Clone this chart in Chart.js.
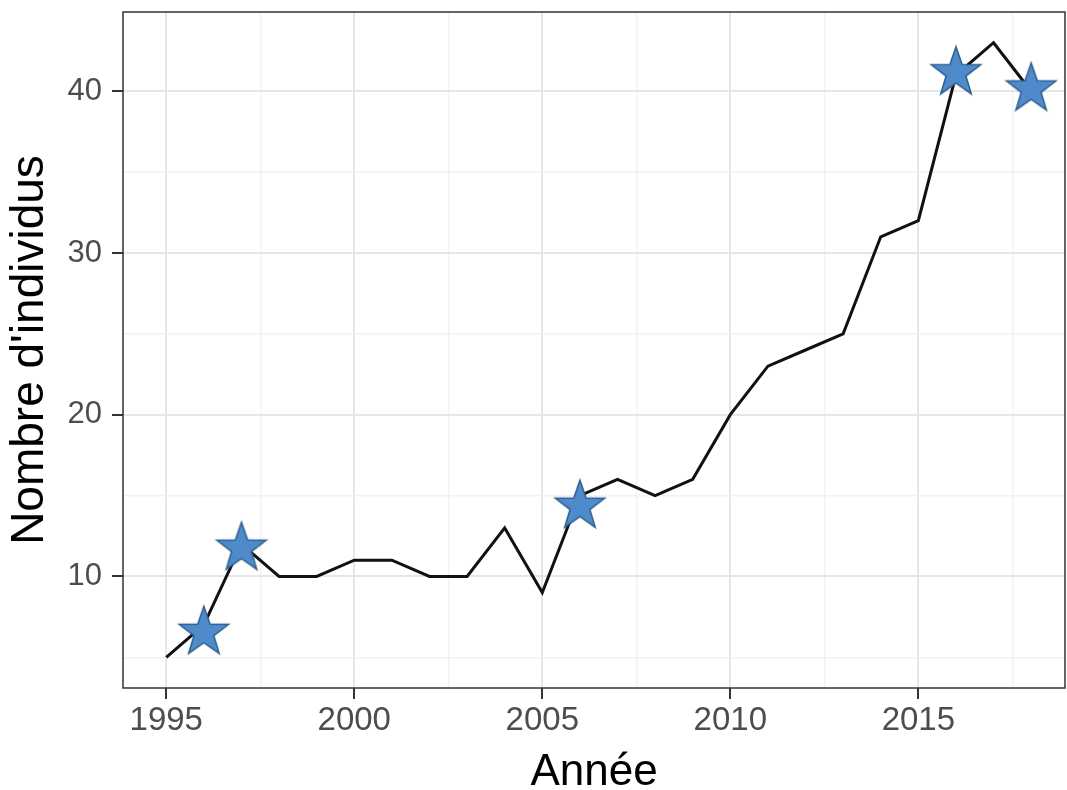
<!DOCTYPE html>
<html>
<head>
<meta charset="utf-8">
<script src="https://cdn.jsdelivr.net/npm/chart.js@4.4.1/dist/chart.umd.min.js"></script>
<style>
  html, body { margin: 0; padding: 0; background: #fff; }
  #wrap { width: 1067px; height: 790px; }
</style>
</head>
<body>
<div id="wrap"><canvas id="popChart" width="1067" height="790"></canvas></div>
<script>
// annual counts (black line)
const years = [1995, 1996, 1997, 1998, 1999, 2000, 2001, 2002, 2003, 2004, 2005, 2006,
  2007, 2008, 2009, 2010, 2011, 2012, 2013, 2014, 2015, 2016, 2017, 2018];
const counts = [5, 7, 12, 10, 10, 11, 11, 10, 10, 13, 9, 15,
  16, 15, 16, 20, 23, 24, 25, 31, 32, 41, 43, 40];

// highlighted years (blue stars)
const starYears = [1996, 1997, 2006, 2016, 2018];
const starCounts = [6.7, 11.9, 14.5, 41.3, 40.3];

// axes: labelled ticks + minor grid positions
const xMajor = [1995, 2000, 2005, 2010, 2015];
const xGrid = [1995, 1997.5, 2000, 2002.5, 2005, 2007.5, 2010, 2012.5, 2015, 2017.5];
const yMajor = [10, 20, 30, 40];
const yGrid = [5, 10, 15, 20, 25, 30, 35, 40];

function makeStar(R, fill, stroke) {
  const pad = 2;
  const size = Math.ceil(R * 2 + pad * 2);
  const c = document.createElement('canvas');
  c.width = size;
  c.height = size;
  const g = c.getContext('2d');
  const cx = size / 2, cy = size / 2 + R * 0.1;
  const r = R * 0.4;
  g.beginPath();
  for (let i = 0; i < 10; i++) {
    const rad = i % 2 === 0 ? R : r;
    const a = -Math.PI / 2 + i * Math.PI / 5;
    const px = cx + rad * Math.cos(a);
    const py = cy + rad * Math.sin(a);
    if (i === 0) g.moveTo(px, py); else g.lineTo(px, py);
  }
  g.closePath();
  g.fillStyle = fill;
  g.fill();
  g.lineWidth = 1.5;
  g.strokeStyle = stroke;
  g.stroke();
  return c;
}

const starImg = makeStar(26, '#4F8BCB', '#2D5E8E');

const panelBorder = {
  id: 'panelBorder',
  afterDraw(chart) {
    const { ctx, chartArea: a } = chart;
    ctx.save();
    ctx.strokeStyle = '#333333';
    ctx.lineWidth = 1.5;
    ctx.strokeRect(a.left, a.top, a.right - a.left, a.bottom - a.top);
    ctx.restore();
  }
};

const isMajorX = v => xMajor.includes(v);
const isMajorY = v => yMajor.includes(v);

const ctx = document.getElementById('popChart').getContext('2d');
const chart = new Chart(ctx, {
  type: 'line',
  data: {
    datasets: [
      {
        label: 'individus',
        data: years.map((y, i) => ({ x: y, y: counts[i] })),
        borderColor: '#111111',
        borderWidth: 3,
        pointRadius: 0,
        tension: 0,
        fill: false,
        order: 2
      },
      {
        label: 'étoiles',
        data: starYears.map((y, i) => ({ x: y, y: starCounts[i] })),
        showLine: false,
        pointStyle: starImg,
        pointRadius: 26,
        order: 1
      }
    ]
  },
  options: {
    responsive: false,
    animation: false,
    devicePixelRatio: 1,
    layout: { autoPadding: false, padding: { top: 12, right: 2, left: 0, bottom: 0 } },
    plugins: {
      legend: { display: false },
      tooltip: { enabled: false }
    },
    scales: {
      x: {
        type: 'linear',
        min: 1993.85,
        max: 2018.9,
        afterBuildTicks: s => { s.ticks = xGrid.map(v => ({ value: v })); },
        afterFit: s => { s.height = 102; s.paddingLeft = 0; s.paddingRight = 0; },
        border: { display: false },
        grid: {
          color: c => isMajorX(c.tick.value) ? '#e6e6e6' : '#f2f2f2',
          lineWidth: c => isMajorX(c.tick.value) ? 2 : 1.4,
          tickColor: c => isMajorX(c.tick.value) ? '#333333' : 'rgba(0,0,0,0)',
          tickWidth: 2,
          tickLength: 11
        },
        ticks: {
          autoSkip: false,
          maxRotation: 0,
          padding: 2,
          color: '#4d4d4d',
          font: { family: 'Liberation Sans', size: 33 },
          callback: v => isMajorX(v) ? String(v) : ''
        },
        title: {
          display: true,
          text: 'Année',
          color: '#000000',
          font: { family: 'Liberation Sans', size: 44, lineHeight: 0.8 },
          padding: { top: 0, bottom: 0 }
        }
      },
      y: {
        type: 'linear',
        min: 3.1,
        max: 44.9,
        afterBuildTicks: s => { s.ticks = yGrid.map(v => ({ value: v })); },
        afterFit: s => { s.width = 123; s.paddingTop = 0; s.paddingBottom = 0; },
        border: { display: false },
        grid: {
          color: c => isMajorY(c.tick.value) ? '#e6e6e6' : '#f2f2f2',
          lineWidth: c => isMajorY(c.tick.value) ? 2 : 1.4,
          tickColor: c => isMajorY(c.tick.value) ? '#333333' : 'rgba(0,0,0,0)',
          tickWidth: 2,
          tickLength: 11
        },
        ticks: {
          autoSkip: false,
          padding: 10,
          color: '#4d4d4d',
          font: { family: 'Liberation Sans', size: 31 },
          callback: v => isMajorY(v) ? String(v) : ''
        },
        title: {
          display: true,
          text: "Nombre d'individus",
          color: '#000000',
          font: { family: 'Liberation Sans', size: 46 },
          padding: { top: 3, bottom: 0 }
        }
      }
    }
  },
  plugins: [panelBorder]
});
</script>
</body>
</html>
